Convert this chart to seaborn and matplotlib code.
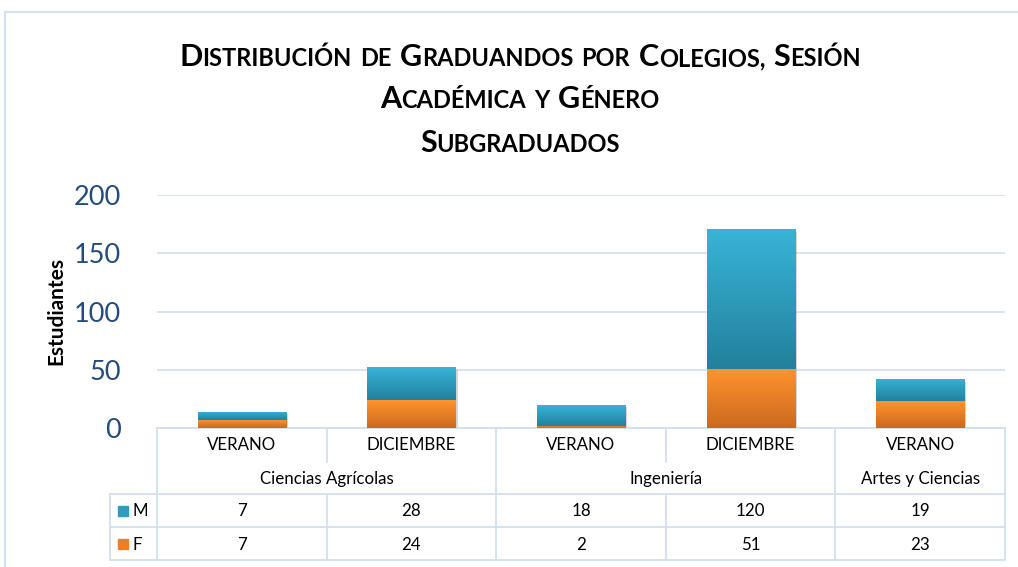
import numpy as np
import pandas as pd
import matplotlib
matplotlib.use("Agg")
import matplotlib.pyplot as plt
import seaborn as sns
from matplotlib.offsetbox import TextArea, HPacker, AnnotationBbox
from matplotlib.colors import LinearSegmentedColormap
from matplotlib.patches import Rectangle
from matplotlib.lines import Line2D
import matplotlib.patheffects as pe
from matplotlib.transforms import blended_transform_factory

# ---------------- data ----------------
colleges = ["Ciencias Agrícolas", "Ciencias Agrícolas", "Ingeniería", "Ingeniería", "Artes y Ciencias"]
sessions = ["VERANO", "DICIEMBRE", "VERANO", "DICIEMBRE", "VERANO"]
m_values = [7, 28, 18, 120, 19]
f_values = [7, 24, 2, 51, 23]
series_labels = ["M", "F"]
y_ticks = [0, 50, 100, 150, 200]
title_lines = ["Distribución de Graduandos por Colegios, Sesión",
               "Académica y Género",
               "Subgraduados"]
y_label = "Estudiantes"

# ---------------- style ----------------
W, H = 1018, 567
sns.set_theme(style="white")
plt.rcParams['font.family'] = ['Lato', 'DejaVu Sans']

M_TOP, M_BOT = "#38B4D8", "#22809C"
F_TOP, F_BOT = "#FF942E", "#CC691E"
GRID = "#D9E3F0"
TABLE = "#D3DFEE"
TICK_COLOR = "#234C7C"

fig = plt.figure(figsize=(W / 100, H / 100), dpi=100)
AX_L, AX_R, AX_T, AX_B = 157, 1005, 195, 428
ax = fig.add_axes([AX_L / W, (H - AX_B) / H, (AX_R - AX_L) / W, (AX_B - AX_T) / H])

# outer chart border (only top/left visible, as in the crop)
fig.add_artist(Rectangle((5 / W, -0.1), 2, (H - 12) / H + 0.1, transform=fig.transFigure,
                         fill=False, edgecolor="#D4E1F2", lw=1.5))

keys = [f"{c}|{s}|{i}" for i, (c, s) in enumerate(zip(colleges, sessions))]
df = pd.DataFrame({"key": keys, "session": sessions, "college": colleges,
                   "M": m_values, "F": f_values})
df["total"] = df["M"] + df["F"]

sns.barplot(data=df, x="key", y="total", color=M_TOP, width=0.52, saturation=1, ax=ax,
            edgecolor="none")
sns.barplot(data=df, x="key", y="F", color=F_TOP, width=0.52, saturation=1, ax=ax,
            edgecolor="none")

n = len(keys)
tot_patches = ax.patches[:n]
f_patches = ax.patches[n:2 * n]

cm_m = LinearSegmentedColormap.from_list("m", [M_BOT, M_TOP])
cm_f = LinearSegmentedColormap.from_list("f", [F_BOT, F_TOP])
grad = np.linspace(0, 1, 256).reshape(-1, 1)

for pt, pf in zip(tot_patches, f_patches):
    pt.set_path_effects([pe.SimplePatchShadow(offset=(1.5, -2), shadow_rgbFace="#888888", alpha=0.35),
                         pe.Normal()])
    pt.set_zorder(2)
    pf.set_zorder(2.1)
    x0 = pt.get_x()
    x1 = x0 + pt.get_width()
    fh = pf.get_height()
    th = pt.get_height()
    if th > fh:
        im = ax.imshow(grad, extent=[x0, x1, fh, th], origin="lower", cmap=cm_m,
                       aspect="auto", zorder=3, interpolation="bilinear")
        im.set_clip_path(pt)
    if fh > 0:
        im = ax.imshow(grad, extent=[x0, x1, 0, fh], origin="lower", cmap=cm_f,
                       aspect="auto", zorder=3.1, interpolation="bilinear")
        im.set_clip_path(pf)

ax.set_xlim(-0.5, n - 0.5)
ax.set_ylim(0, 200)
ax.set_yticks(y_ticks)
ax.set_yticklabels([str(t) for t in y_ticks], color=TICK_COLOR, fontsize=19.5)
ax.tick_params(axis="y", length=0, pad=26)
ax.set_xticks([])
ax.set_xlabel("")
ax.set_ylabel("")
ax.yaxis.grid(True, color=GRID, lw=1.4)
ax.set_axisbelow(True)
for s in ax.spines.values():
    s.set_visible(False)

fig.text(56 / W, 1 - 311 / H, y_label, rotation=90, ha="center", va="center",
         fontsize=15, fontweight="bold", color="black")

# ---------------- data table ----------------
AXW, AXH = AX_R - AX_L, AX_B - AX_T
def fy(py):
    return (AX_B - py) / AXH
def fx(px):
    return (px - AX_L) / AXW

tr = blended_transform_factory(ax.transData, ax.transAxes)
tra = ax.transAxes

def hline(x0, x1, y, trans):
    ax.add_line(Line2D([x0, x1], [y, y], transform=trans, color=TABLE, lw=1.3, clip_on=False))

def vline(x, y0, y1, trans):
    ax.add_line(Line2D([x, x], [y0, y1], transform=trans, color=TABLE, lw=1.3, clip_on=False))

Y_TOP, Y_SESS, Y_COL, Y_M, Y_F = 428, 462, 494, 527, 560
hline(-0.5, n - 0.5, fy(Y_TOP), tr)
hline(fx(110), 1, fy(Y_COL), tra)
hline(fx(110), 1, fy(Y_M), tra)
hline(fx(110), 1, fy(Y_F), tra)
vline(fx(110), fy(Y_COL), fy(Y_F), tra)

TXT = 12.2
# session row
for i, s in enumerate(sessions):
    ax.text(i, fy(445), s, transform=tr, ha="center", va="center", fontsize=TXT, color="black")

# college groups
groups = []
start = 0
for i in range(1, n + 1):
    if i == n or colleges[i] != colleges[start]:
        groups.append((colleges[start], start, i - 1))
        start = i
boundaries_full = set()
for name, a, b in groups:
    ax.text((a + b) / 2, fy(479), name, transform=tr, ha="center", va="center",
            fontsize=TXT, color="black")
    boundaries_full.add(a - 0.5)
    boundaries_full.add(b + 0.5)
for k in range(n + 1):
    xb = k - 0.5
    if xb in boundaries_full:
        vline(xb, fy(Y_TOP), fy(Y_F), tr)
    else:
        vline(xb, fy(Y_TOP), fy(Y_SESS), tr)
        vline(xb, fy(Y_COL), fy(Y_F), tr)

# value rows
for row_y, lab, vals, col in [((Y_COL + Y_M) / 2, series_labels[0], m_values, "#2D9CBD"),
                              ((Y_M + Y_F) / 2, series_labels[1], f_values, "#EE7F24")]:
    ax.add_patch(Rectangle((fx(118), fy(row_y + 5)), 10 / AXW, 10 / AXH, transform=tra,
                           color=col, clip_on=False))
    ax.text(fx(132), fy(row_y + 1), lab, transform=tra, ha="left", va="center",
            fontsize=TXT, color="black")
    for i, v in enumerate(vals):
        ax.text(i, fy(row_y + 1), str(v), transform=tr, ha="center", va="center",
                fontsize=TXT, color="black")

# ---------------- small-caps title ----------------
BIG, SMALL = 22, 17
def word_box(word):
    parts = []
    cur, cur_big = "", None
    for ch in word:
        big = ch.isupper()
        if cur_big is None or big == cur_big:
            cur += ch
        else:
            parts.append((cur, cur_big))
            cur = ch
        cur_big = big
    parts.append((cur, cur_big))
    children = []
    for txt, big in parts:
        children.append(TextArea(txt.upper(), textprops=dict(
            fontsize=BIG if big else SMALL, fontweight="bold", color="black")))
    return HPacker(children=children, align="baseline", pad=0, sep=0)

for line, base in zip(title_lines, [66, 108, 151]):
    words = [word_box(w) for w in line.split(" ")]
    pk = HPacker(children=words, align="baseline", pad=0, sep=6)
    ab = AnnotationBbox(pk, (520, H - base - 5.5), xycoords="figure pixels",
                        box_alignment=(0.5, 0), frameon=False, pad=0)
    fig.add_artist(ab)

fig.savefig("out.png", dpi=100)
